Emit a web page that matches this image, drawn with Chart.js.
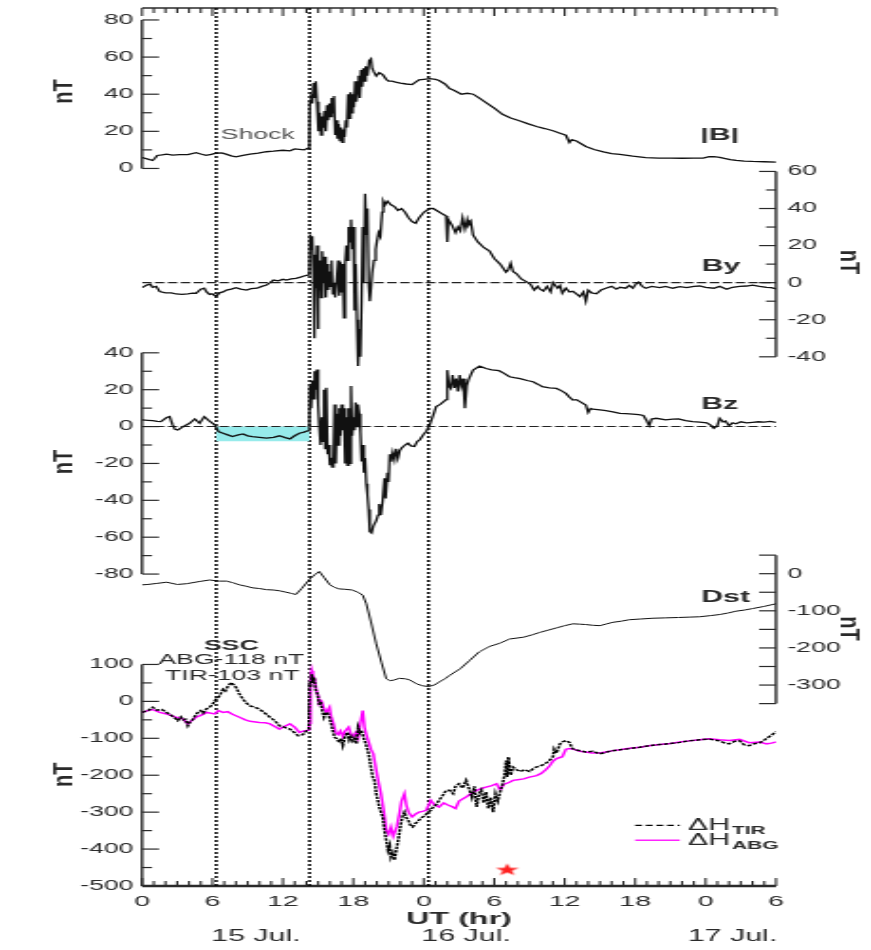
<!DOCTYPE html>
<html>
<head>
<meta charset="utf-8">
<script src="https://cdn.jsdelivr.net/npm/chart.js@4.4.1/dist/chart.umd.min.js"></script>
<style>
  html, body { margin: 0; background: #fff; overflow: hidden; }
  #storm { position: absolute; left: 0; top: 0; transform-origin: 0 0; }
</style>
</head>
<body>
<canvas id="storm" width="459" height="950"></canvas>
<script>
// the original figure is stretched sideways, so the chart is drawn narrow and widened
var S = 871 / 459;
var INK = '#2a2a2a';

// hours after 15 Jul 00 UT, value
var bField = [[0,5.9],[0.5,5],[0.9,4.3],[1.1,5.5],[1.3,7],[1.7,7.3],[2.1,7.7],[2.6,7.2],[3.2,7.4],[3.9,7.5],[4.6,8.5],[5.0,7.8],[5.45,7.1],[5.9,7.6],[6.3,8.2],[6.8,8.4],[7.15,7.7],[7.6,6.8],[8.0,6.3],[8.6,7.0],[9.2,7.7],[9.9,8.2],[10.6,9.0],[11.2,9.3],[12.0,9.8],[12.6,9.5],[13.0,10.5],[13.4,10.3],[13.8,10.0],[14.1,10.8],[14.25,10.5],[14.3,36],[14.4,40],[14.5,35],[14.6,46],[14.7,38],[14.8,47],[14.9,36],[15.0,30],[15.05,20],[15.15,30],[15.25,18],[15.35,28],[15.45,22],[15.55,31],[15.65,20],[15.75,34],[15.85,26],[15.95,35],[16.05,28],[16.15,38],[16.25,30],[16.35,39],[16.45,18],[16.55,26],[16.65,16],[16.75,24],[16.85,15],[16.95,22],[17.05,14],[17.15,21],[17.25,17],[17.35,26],[17.45,22],[17.55,40],[17.65,27],[17.75,41],[17.85,30],[17.95,40],[18.05,33],[18.15,47],[18.25,36],[18.35,42],[18.45,50],[18.55,38],[18.65,53],[18.75,44],[18.85,54],[18.95,47],[19.05,55],[19.2,50],[19.35,58],[19.5,59],[19.6,54],[19.75,52],[19.95,49.8],[20.2,51.6],[20.5,50.5],[20.8,48],[21.0,47],[21.3,47],[21.6,46.5],[22.0,46],[22.5,45.5],[23.0,45.2],[23.3,46.5],[23.6,47.7],[24.0,48],[24.5,48.4],[25.0,48],[25.3,47.4],[25.8,45.5],[26.2,43],[26.6,42],[27.2,40],[27.7,40.5],[28.2,40],[28.7,38],[29.3,35.5],[30.0,32.5],[30.7,29.2],[31.4,27.2],[32.2,25.6],[32.9,24],[33.6,22.6],[34.3,21.5],[35.0,20.3],[35.6,19],[36.1,17.9],[36.4,14],[36.6,15.5],[37.0,14.8],[37.8,11.8],[38.5,10.2],[39.3,8.9],[40.0,8],[40.7,7.6],[41.8,6.6],[42.9,5.8],[44.0,5.6],[45.0,5.6],[46.0,5.5],[47.0,5.6],[47.8,5.6],[48.3,6.3],[48.7,6.4],[49.2,6.0],[49.6,5.4],[50.1,4.8],[50.6,4.3],[51.3,4.0],[52.0,3.8],[53.0,3.6],[54.0,3.4]];

var byField = [[0,-2.7],[0.4,-1.3],[0.7,-0.8],[0.9,-2.5],[1.2,-2],[1.5,-4.8],[2.0,-5.5],[2.5,-5.5],[2.9,-6.1],[3.4,-6.3],[3.9,-6],[4.3,-5.7],[4.6,-5.7],[5.0,-3.5],[5.3,-3],[5.5,-5],[5.75,-6.3],[6.0,-6],[6.3,-7.5],[6.6,-5.5],[6.9,-5],[7.2,-4],[7.6,-3.5],[8.0,-2.7],[8.4,-3.5],[8.9,-4],[9.3,-3.2],[9.8,-3],[10.2,-2],[10.6,-1.3],[10.9,0],[11.2,1.4],[11.6,1],[12.0,1.8],[12.3,1.4],[12.7,2],[13.1,2.3],[13.5,3],[13.8,3.6],[14.1,4.1],[14.25,4.5],
  [14.32,26],[14.42,18],[14.5,25],[14.6,5],[14.68,-30],[14.75,15],[14.82,-3],[14.9,20],[14.97,-25],[15.05,-5],[15.15,12],[15.25,-8],[15.35,17],[15.45,0],[15.55,14],[15.65,-8],[15.75,10],[15.85,-4],[15.95,6],[16.05,-2],[16.15,12],[16.25,-6],[16.35,0],[16.45,-8],[16.6,3],[16.7,12],[16.8,-7],[16.9,11],[17.0,-5],[17.1,10],[17.2,-19],[17.3,10],[17.4,20],[17.5,12],[17.6,30],[17.7,22],[17.8,34],[17.9,18],[18.0,30],[18.1,-15],[18.2,10],[18.3,-20],[18.4,-45],[18.5,-25],[18.6,-40],[18.7,-10],[18.8,30],[18.9,0],[19.0,48],[19.1,26],[19.2,40],[19.3,0],[19.4,-10],[19.5,-3],[19.6,5],[19.75,12],[19.9,18],[20.0,22],[20.15,27],[20.3,25],[20.45,38],[20.55,44],[20.7,42],[20.9,44],[21.2,42],[21.5,41],[21.8,39],[22.1,40],[22.4,38],[22.7,35],[23.0,33],[23.3,32],[23.6,35],[24.0,38],[24.5,40],
  [24.8,40],[25.2,38.5],[25.6,37],[25.9,36],[26.0,22],[26.1,34],[26.4,31],[26.7,27],[26.9,30],[27.1,28],[27.3,35],[27.5,29],[27.7,34],[27.8,31],[28.0,33],[28.2,25.6],[28.6,22],[29.1,19],[29.6,17],[30.0,13],[30.5,10],[31.0,5.7],[31.2,7],[31.4,10.4],[31.6,6],[31.9,4.8],[32.3,2],[32.8,0.3],[33.1,-1],[33.4,-4],[33.7,-2],[33.9,-3.5],[34.2,-4.5],[34.5,-2],[34.8,-5],[35.0,0],[35.2,-1.5],[35.4,-3],[35.6,-1.5],[35.8,-5.7],[36.1,-3],[36.4,-5],[36.7,-4.7],[37.0,-6],[37.3,-7.5],[37.6,-5],[37.8,-10],[38.0,-4],[38.3,-5.5],[38.7,-6],[39.1,-4],[39.5,-3],[40.0,-2],[40.4,-3.5],[40.7,-2.5],[41.2,-3],[41.5,-1.5],[41.8,-3],[42.1,-0.5],[42.3,0.3],[42.6,-2],[42.9,-3],[43.4,-2],[44.1,-2.7],[44.6,-2],[45.2,-3],[45.8,-2.2],[46.4,-2.7],[47.0,-2],[47.5,-1.8],[48.0,-2.5],[48.7,-3],[49.2,-2],[49.8,-3.5],[50.3,-2.5],[50.9,-2],[51.5,-1.8],[52.0,-1.3],[52.6,-2],[53.2,-2.5],[53.6,-2.7],[54.0,-3.4]];

var bzField = [[0,3.6],[0.5,3.4],[0.9,3.2],[1.3,2.8],[1.6,2.7],[2.1,4.9],[2.35,5.4],[2.6,1],[2.8,-1.5],[3.05,-1.8],[3.5,0],[4.05,1.8],[4.5,4.1],[4.9,1.8],[5.3,5.4],[5.75,3],[6.2,0.9],[6.5,-2.7],[6.9,-3.6],[7.3,-4.5],[7.7,-5.4],[8.2,-4.5],[8.6,-4],[9.0,-5],[9.4,-5.4],[10.0,-5.8],[10.6,-6.3],[11.2,-5.8],[11.7,-5],[12.2,-6],[12.6,-6.7],[13.0,-5],[13.4,-3.6],[13.8,-3],[14.1,-2.3],[14.25,-2],
  [14.3,22],[14.4,10],[14.5,25],[14.6,15],[14.7,30],[14.8,20],[14.9,31],[15.0,12],[15.1,0],[15.2,-10],[15.3,5],[15.4,-8],[15.5,20],[15.6,-12],[15.7,21],[15.8,-15],[15.9,-10],[16.0,-21],[16.1,-17],[16.2,-22],[16.3,-18],[16.4,12],[16.5,-20],[16.6,7],[16.7,-10],[16.8,10],[16.9,-5],[17.0,12],[17.1,-2],[17.2,10],[17.3,-20],[17.4,5],[17.5,-21],[17.6,10],[17.7,-20],[17.8,22],[17.9,-5],[18.0,5],[18.1,-2],[18.2,13],[18.3,0],[18.4,12],[18.5,7],[18.6,-3],[18.7,-19],[18.8,-10],[18.9,-25],[19.0,-17],[19.1,-31],[19.2,-37],[19.3,-45],[19.4,-57],[19.55,-57.7],[19.7,-54],[19.95,-51],[20.1,-48],[20.2,-42],[20.35,-48],[20.5,-40],[20.65,-28],[20.75,-39],[20.9,-25],[21.0,-30],[21.1,-15],[21.2,-19],[21.35,-14],[21.5,-18],[21.65,-12],[21.8,-17],[21.95,-13],[22.1,-11.7],[22.4,-10],[22.65,-9],[22.9,-10.5],[23.2,-10.8],[23.45,-8],[23.65,-7.2],[24.0,-4],[24.2,-2.7],[24.5,0.9],[24.6,2.7],[24.85,7],[25.05,10.8],[25.4,12],[25.9,14.6],[26.0,30.6],[26.15,22],[26.3,20.7],[26.45,28],[26.6,21],[26.75,26],[26.9,19],[27.05,27.9],[27.2,22],[27.35,26],[27.5,9.9],[27.65,22],[27.8,25.2],[28.0,28],[28.2,30.6],[28.75,32.8],[29.3,31.5],[29.8,30.8],[30.4,30.3],[30.8,29],[31.3,27],[31.7,26.5],[32.2,26],[32.8,25],[33.3,24.3],[33.7,23],[34.1,21.6],[34.7,21],[35.3,20.7],[35.7,19.5],[36.1,18],[36.4,16],[36.7,14.4],[37.0,14.6],[37.3,13.5],[37.8,11.7],[38.0,7.7],[38.2,9.8],[38.4,9.4],[39.0,9],[39.5,8.6],[40.1,8],[40.7,7.2],[41.2,7],[41.8,6.8],[42.3,6.5],[42.7,6],[43.0,3],[43.2,0.5],[43.4,4.1],[43.8,4.5],[44.6,3.6],[45.2,4],[45.7,4.2],[46.3,3.2],[46.9,2.7],[47.5,2.4],[48.1,2],[48.5,0.5],[48.7,-0.9],[49.0,0.5],[49.2,4.5],[49.5,2.5],[49.7,3],[50.0,0.5],[50.3,2],[50.6,1.5],[51.0,2.6],[51.5,2],[52.0,2.3],[52.5,2.6],[53.0,2.4],[53.5,2.8],[54.0,2.3]];

var dstIndex = [[0,-30],[0.5,-29],[1.3,-26],[2.1,-23],[3.0,-29],[3.8,-27],[4.9,-21],[5.75,-17],[6.6,-20],[7.2,-20],[7.7,-24],[8.3,-30],[8.9,-34],[9.4,-38],[10.0,-40],[10.6,-43],[11.2,-44],[11.7,-46],[12.3,-50],[12.7,-53],[13.1,-56],[13.6,-40],[14.3,-14],[14.7,-3],[15.1,6],[15.5,-10],[16.0,-30],[16.4,-37],[16.8,-41],[17.3,-42],[17.9,-44],[18.4,-50],[18.8,-58],[19.1,-81],[19.5,-130],[19.95,-189],[20.4,-240],[20.8,-283],[21.1,-288],[21.4,-287],[21.9,-282],[22.4,-283],[22.8,-286],[23.4,-297],[23.9,-302],[24.4,-304],[24.9,-300],[25.3,-292],[25.8,-283],[26.2,-274],[27.1,-256],[27.9,-234],[28.7,-211],[29.6,-196],[30.5,-187],[31.3,-176],[32.5,-171],[33.2,-165],[33.9,-158],[34.6,-152],[35.3,-146],[36.0,-140],[36.7,-135],[37.3,-136],[37.8,-137],[38.4,-139],[39.0,-140],[39.6,-135],[40.1,-131],[40.8,-128],[41.5,-124],[42.5,-122],[43.5,-120],[44.6,-119],[45.7,-118],[46.6,-117],[47.5,-116],[48.4,-113],[49.2,-110],[49.9,-106],[50.6,-101],[51.3,-98],[52.0,-94],[53.0,-88],[54.0,-81]];

var dhTirona = [[0,-30],[0.5,-25],[0.9,-16],[1.3,-24],[1.7,-22],[2.1,-30],[2.5,-38],[2.8,-45],[3.05,-52],[3.3,-42],[3.5,-50],[3.7,-48],[3.9,-66],[4.1,-55],[4.3,-50],[4.5,-40],[4.75,-30],[5.0,-25],[5.2,-32],[5.5,-20],[5.75,-16],[6.0,-8],[6.2,2],[6.4,8],[6.6,15],[6.9,33],[7.1,28],[7.3,40],[7.6,51],[7.8,45],[8.0,38],[8.3,20],[8.6,6],[8.9,-5],[9.2,-12],[9.6,-16],[10.0,-21],[10.4,-30],[10.9,-43],[11.3,-52],[11.7,-66],[12.1,-70],[12.6,-75],[13.0,-85],[13.3,-93],[13.7,-90],[14.0,-80],[14.2,-75],
  [14.27,51],[14.35,38],[14.45,74],[14.55,50],[14.65,65],[14.8,30],[14.95,20],[15.1,-10],[15.2,0],[15.35,-25],[15.5,-43],[15.65,-30],[15.8,-31],[15.97,-45],[16.1,-60],[16.25,-80],[16.4,-97],[16.55,-100],[16.8,-111],[16.95,-100],[17.1,-120],[17.3,-95],[17.5,-84],[17.65,-105],[17.8,-95],[17.95,-107],[18.1,-100],[18.25,-115],[18.4,-70],[18.55,-85],[18.7,-79],[18.85,-97],[19.0,-110],[19.1,-120],[19.3,-142],[19.5,-180],[19.65,-205],[19.8,-214],[19.95,-250],[20.1,-270],[20.2,-286],[20.35,-300],[20.5,-313],[20.65,-350],[20.8,-376],[20.95,-404],[21.1,-390],[21.2,-422],[21.35,-410],[21.5,-430],[21.65,-405],[21.8,-380],[21.95,-350],[22.05,-331],[22.2,-310],[22.35,-300],[22.5,-315],[22.65,-320],[22.85,-335],[23.05,-340],[23.3,-330],[23.5,-325],[23.7,-318],[23.9,-313],[24.1,-310],[24.35,-300],[24.6,-295],[24.8,-286],[25.05,-280],[25.3,-268],[25.6,-255],[25.9,-241],[26.2,-241],[26.5,-250],[26.7,-230],[27.0,-223],[27.3,-235],[27.6,-214],[27.9,-240],[28.1,-260],[28.3,-230],[28.5,-286],[28.7,-250],[28.9,-240],[29.1,-275],[29.3,-245],[29.5,-290],[29.7,-260],[29.9,-300],[30.1,-250],[30.3,-270],[30.5,-245],[30.7,-225],[30.9,-196],[31.0,-160],[31.1,-205],[31.2,-151],[31.4,-200],[31.6,-178],[31.9,-185],[32.2,-190],[32.6,-185],[33.0,-190],[33.4,-180],[33.9,-175],[34.3,-170],[34.7,-160],[35.0,-150],[35.1,-129],[35.3,-140],[35.6,-115],[35.8,-110],[36.1,-106],[36.4,-111],[36.6,-125],[36.8,-131],[37.2,-133],[37.8,-137],[38.4,-135],[39.0,-142],[39.5,-138],[40.0,-134],[40.7,-131],[41.5,-128],[42.4,-124],[43.2,-120],[44.1,-117],[45.0,-114],[45.8,-111],[46.6,-107],[47.5,-104],[48.3,-102],[48.8,-105],[49.2,-107],[49.6,-112],[50.0,-115],[50.5,-108],[50.9,-107],[51.3,-118],[51.7,-120],[52.1,-115],[52.6,-112],[53.0,-105],[53.2,-100],[53.6,-92],[54.0,-82]];

var dhAlibag = [[0,-30],[0.5,-25],[0.9,-22],[1.5,-30],[2.1,-34],[2.8,-42],[3.5,-48],[3.9,-61],[4.3,-50],[4.6,-43],[5.0,-38],[5.5,-30],[6.2,-34],[6.5,-25],[6.9,-30],[7.3,-28],[7.7,-35],[8.3,-43],[8.8,-50],[9.2,-54],[10.0,-57],[10.5,-58],[10.9,-61],[11.3,-68],[11.7,-75],[12.1,-68],[12.6,-61],[13.0,-70],[13.4,-84],[13.8,-80],[14.2,-78],
  [14.27,-60],[14.35,60],[14.45,83],[14.55,70],[14.7,60],[14.85,30],[15.0,15],[15.1,-7],[15.3,0],[15.5,-20],[15.7,-30],[15.97,-16],[16.1,-40],[16.3,-60],[16.5,-85],[16.7,-90],[16.9,-80],[17.1,-95],[17.3,-80],[17.6,-70],[17.8,-90],[18.0,-95],[18.2,-85],[18.4,-100],[18.6,-60],[18.8,-25],[18.95,-70],[19.1,-90],[19.3,-110],[19.5,-130],[19.7,-142],[19.95,-187],[20.15,-220],[20.35,-250],[20.6,-300],[20.8,-349],[21.0,-360],[21.2,-340],[21.4,-365],[21.7,-340],[21.95,-300],[22.1,-270],[22.35,-250],[22.5,-280],[22.7,-300],[23.0,-313],[23.3,-305],[23.6,-300],[23.9,-298],[24.2,-295],[24.6,-268],[24.9,-280],[25.3,-286],[25.7,-275],[26.0,-280],[26.4,-285],[26.7,-290],[27.0,-270],[27.6,-259],[28.0,-250],[28.5,-241],[29.0,-235],[29.3,-232],[29.8,-228],[30.2,-223],[30.5,-240],[30.8,-225],[31.3,-219],[31.6,-214],[32.0,-212],[32.5,-210],[33.0,-205],[33.6,-201],[34.0,-195],[34.4,-185],[34.7,-175],[35.0,-162],[35.3,-155],[35.6,-152],[35.8,-150],[36.1,-130],[36.4,-128],[36.8,-130],[37.3,-135],[37.8,-137],[38.3,-140],[39.0,-140],[39.5,-137],[40.0,-134],[40.7,-131],[41.5,-127],[42.4,-124],[43.2,-120],[44.1,-117],[45.0,-114],[45.8,-110],[46.6,-107],[47.5,-104],[48.3,-101],[49.2,-104],[50.0,-106],[50.9,-103],[51.7,-112],[52.6,-110],[53.2,-115],[53.6,-113],[54.0,-110]];

var eventHours = [6.32, 14.27, 24.4];     // dotted lines
var southwardSpan = [6.32, 14.27];        // shaded Bz interval
var southwardLevel = -8;
var starMark = [[31.1, -455]];

var hourTicks = [0, 6, 12, 18, 24, 30, 36, 42, 48, 54];
var bTicks = [0, 20, 40, 60, 80];
var byTicks = [-40, -20, 0, 20, 40, 60];
var bzTicks = [-80, -60, -40, -20, 0, 20, 40];
var dstTicks = [-300, -200, -100, 0];
var dhTicks = [-500, -400, -300, -200, -100, 0, 100];
var dayLabels = ['15 Jul.', '16 Jul.', '17 Jul.'];

// each panel: value range, where it sits on screen, side of its axis
var TOP = 5, BOTTOM = 886;
var bands = {
  yB:   { lo: 0,    hi: 80,  yLo: 166, yHi: 17,    side: 'left',  major: 20,  minor: 10, ticks: bTicks },
  yBy:  { lo: -40,  hi: 60,  yLo: 355, yHi: 169,   side: 'right', major: 20,  minor: 10, ticks: byTicks },
  yBz:  { lo: -80,  hi: 40,  yLo: 573, yHi: 351,   side: 'left',  major: 20,  minor: 10, ticks: bzTicks },
  yDst: { lo: -350, hi: 50,  yLo: 703, yHi: 554,   side: 'right', major: 50,  minor: 50, ticks: dstTicks },
  yH:   { lo: -500, hi: 100, yLo: 886, yHi: 663.7, side: 'left',  major: 100, minor: 50, ticks: dhTicks }
};

function pts(list) {
  return list.map(function (p) { return { x: p[0], y: p[1] }; });
}

function makeAxis(id) {
  var b = bands[id];
  var k = (b.yLo - b.yHi) / (b.hi - b.lo);
  return {
    type: 'linear',
    position: b.side,
    min: b.lo - (BOTTOM - b.yLo) / k,
    max: b.hi + (b.yHi - TOP) / k,
    grid: { display: false, drawTicks: false },
    border: { display: false },
    ticks: {
      color: INK,
      font: { size: 14 },
      padding: b.side === 'left' ? 4.5 : 6,
      autoSkip: false
    },
    afterBuildTicks: function (s) {
      s.ticks = b.ticks.map(function (v) { return { value: v }; });
    },
    afterFit: function (s) {
      s.width = 0;
      s.paddingTop = 0;
      s.paddingBottom = 0;
    }
  };
}

function starImage() {
  var c = document.createElement('canvas');
  c.width = 14; c.height = 14;
  var g = c.getContext('2d');
  g.fillStyle = '#ff2020';
  g.beginPath();
  for (var i = 0; i < 10; i++) {
    var r = i % 2 ? 2.6 : 6.4;
    var a = -Math.PI / 2 + i * Math.PI / 5;
    g.lineTo(7 + r * Math.cos(a), 7.5 + r * Math.sin(a));
  }
  g.closePath();
  g.fill();
  return c;
}

var notes = [
  { text: '|B|',        axis: 'yB',   h: 49.2, v: 17.7,  font: 'bold 16px' },
  { text: 'Shock',      axis: 'yB',   h: 9.85, v: 17.7,  font: '14px', color: '#555' },
  { text: 'By',         axis: 'yBy',  h: 49.3, v: 8.6,   font: 'bold 16px' },
  { text: 'Bz',         axis: 'yBz',  h: 49.2, v: 11.9,  font: 'bold 16px' },
  { text: 'Dst',        axis: 'yDst', h: 49.7, v: -64,   font: 'bold 16px' },
  { text: 'SSC',        axis: 'yH',   h: 7.6,  v: 150,   font: 'bold 14px' },
  { text: 'ABG-118 nT', axis: 'yH',   h: 7.6,  v: 112,   font: '14px' },
  { text: 'TIR-103 nT', axis: 'yH',   h: 7.7,  v: 69,    font: '14px' }
];
var dayHours = [9.7, 27.6, 50.3];
var FAMILY = '"Liberation Sans", Arial, sans-serif';

var framePlugin = {
  id: 'frame',
  // the y scales have no width of their own; give their labels room to show
  afterLayout: function (chart) {
    Object.keys(bands).forEach(function (id) {
      var s = chart.scales[id];
      if (bands[id].side === 'left') { s.left = 0; } else { s.right = chart.width; }
    });
  },
  beforeDatasetsDraw: function (chart) {
    var ctx = chart.ctx, a = chart.chartArea, xs = chart.scales.x;
    function seg(x1, y1, x2, y2) { ctx.beginPath(); ctx.moveTo(x1, y1); ctx.lineTo(x2, y2); ctx.stroke(); }
    ctx.save();
    ctx.strokeStyle = INK;
    ctx.lineWidth = 1.3;
    seg(a.left, a.top, a.right, a.top);
    ctx.lineWidth = 2.4;
    seg(a.left, a.bottom, a.right, a.bottom);
    ctx.lineWidth = 1.1;
    for (var h = 0; h <= 54; h++) {
      var x = xs.getPixelForValue(h);
      var len = h % 6 === 0 ? 8 : 5;
      seg(x, a.top, x, a.top + len);
      seg(x, a.bottom, x, a.bottom - len);
    }
    Object.keys(bands).forEach(function (id) {
      var b = bands[id], s = chart.scales[id];
      var x0 = b.side === 'left' ? a.left : a.right;
      var dir = b.side === 'left' ? 1 : -1;
      ctx.lineWidth = 1.4;
      seg(x0, s.getPixelForValue(b.lo), x0, s.getPixelForValue(b.hi));
      ctx.lineWidth = 1.2;
      for (var v = b.lo; v <= b.hi; v += b.minor) {
        var y = s.getPixelForValue(v);
        var l = ((v - b.lo) % b.major === 0 ? 17 : 10) / S;
        seg(x0, y, x0 + dir * l, y);
      }
    });
    ctx.strokeStyle = '#000';
    ctx.lineWidth = 1.5;
    ctx.setLineDash([2, 2]);
    eventHours.forEach(function (h) {
      var x = xs.getPixelForValue(h);
      seg(x, a.top, x, a.bottom);
    });
    ctx.restore();
  },
  afterDatasetsDraw: function (chart) {
    var ctx = chart.ctx, xs = chart.scales.x, yH = chart.scales.yH;
    ctx.save();
    ctx.textAlign = 'center';
    ctx.textBaseline = 'middle';
    notes.forEach(function (n) {
      ctx.font = n.font + ' ' + FAMILY;
      ctx.fillStyle = n.color || INK;
      ctx.fillText(n.text, xs.getPixelForValue(n.h), chart.scales[n.axis].getPixelForValue(n.v));
    });
    ctx.font = '16px ' + FAMILY;
    ctx.fillStyle = INK;
    dayLabels.forEach(function (d, i) {
      ctx.fillText(d, xs.getPixelForValue(dayHours[i]), 937);
    });
    // rotated unit titles, centred on each panel
    ctx.font = 'bold 20px ' + FAMILY;
    Object.keys(bands).forEach(function (id) {
      var b = bands[id];
      var y = (b.yLo + b.yHi) / 2;
      var left = b.side === 'left';
      ctx.save();
      ctx.translate(left ? 64 / S : 849 / S, y);
      ctx.scale(0.72, 1);
      ctx.rotate(left ? -Math.PI / 2 : Math.PI / 2);
      ctx.fillText('nT', 0, 0);
      ctx.restore();
    });
    // legend
    var rows = [
      { ds: chart.data.datasets[7], sub: 'TIR', v: -336 },
      { ds: chart.data.datasets[8], sub: 'ABG', v: -376 }
    ];
    rows.forEach(function (r) {
      var y = yH.getPixelForValue(r.v);
      ctx.strokeStyle = r.ds.borderColor;
      ctx.lineWidth = 1.3;
      ctx.setLineDash(r.ds.borderDash ? [3.6, 2] : []);
      ctx.beginPath();
      ctx.moveTo(xs.getPixelForValue(42.0), y);
      ctx.lineTo(xs.getPixelForValue(45.8), y);
      ctx.stroke();
      ctx.setLineDash([]);
      ctx.textAlign = 'left';
      ctx.fillStyle = INK;
      var tx = xs.getPixelForValue(46.5);
      ctx.font = '16px ' + FAMILY;
      ctx.fillText('\u0394H', tx, y);
      var w = ctx.measureText('\u0394H').width;
      ctx.font = 'bold 11px ' + FAMILY;
      ctx.fillText(r.sub, tx + w + 1, y + 6);
    });
    ctx.restore();
  }
};

document.addEventListener('DOMContentLoaded', function () {
  var canvas = document.getElementById('storm');
  canvas.style.width = '459px';
  canvas.style.height = '950px';
  canvas.style.transform = 'scaleX(' + S + ')';
  Chart.defaults.font.family = FAMILY;

  var ctx = canvas.getContext('2d');
  new Chart(ctx, {
    type: 'line',
    data: {
      datasets: [
        { data: pts(bField), yAxisID: 'yB', borderColor: '#111', borderWidth: 1.3, order: 1 },
        { data: pts(byField), yAxisID: 'yBy', borderColor: '#111', borderWidth: 1.3, order: 1 },
        { data: [{ x: 0, y: 0 }, { x: 54, y: 0 }], yAxisID: 'yBy', borderColor: '#222', borderWidth: 1.1, borderDash: [5, 1.8], order: 5 },
        { data: pts(bzField), yAxisID: 'yBz', borderColor: '#111', borderWidth: 1.3, order: 1 },
        { data: [{ x: 0, y: 0 }, { x: 54, y: 0 }], yAxisID: 'yBz', borderColor: '#222', borderWidth: 1.1, borderDash: [5, 1.8], order: 5 },
        { data: [{ x: southwardSpan[0], y: southwardLevel }, { x: southwardSpan[1], y: southwardLevel }], yAxisID: 'yBz',
          borderWidth: 0, borderColor: 'rgba(0,0,0,0)', backgroundColor: '#97ebeb', fill: { value: 0 }, order: 6 },
        { data: pts(dstIndex), yAxisID: 'yDst', borderColor: '#111', borderWidth: 1.0, order: 1 },
        { data: pts(dhTirona), yAxisID: 'yH', borderColor: '#000', borderWidth: 1.5, borderDash: [2.5, 1], order: 2 },
        { data: pts(dhAlibag), yAxisID: 'yH', borderColor: '#ff00ff', borderWidth: 1.5, order: 3 },
        { data: pts(starMark), yAxisID: 'yH', showLine: false, pointStyle: starImage(), pointRadius: 7, order: 0 }
      ]
    },
    options: {
      responsive: false,
      animation: false,
      devicePixelRatio: 1,
      layout: { padding: { left: 142 / S, right: (871 - 776) / S, top: TOP, bottom: 0 } },
      elements: { point: { radius: 0 }, line: { tension: 0 } },
      plugins: { legend: { display: false }, tooltip: { enabled: false } },
      scales: {
        x: {
          type: 'linear',
          min: 0,
          max: 54,
          grid: { display: false, drawTicks: false },
          border: { display: false },
          ticks: {
            color: INK,
            font: { size: 15 },
            padding: 7,
            maxRotation: 0,
            autoSkip: false,
            callback: function (v) { return String(v % 24); }
          },
          afterBuildTicks: function (s) {
            s.ticks = hourTicks.map(function (v) { return { value: v }; });
          },
          afterFit: function (s) { s.height = 950 - BOTTOM; },
          title: { display: true, text: 'UT (hr)', color: INK, font: { size: 17, weight: 'bold' }, padding: { top: 0, bottom: 20 } }
        },
        yB: makeAxis('yB'),
        yBy: makeAxis('yBy'),
        yBz: makeAxis('yBz'),
        yDst: makeAxis('yDst'),
        yH: makeAxis('yH')
      }
    },
    plugins: [framePlugin]
  });
});
</script>
</body>
</html>
